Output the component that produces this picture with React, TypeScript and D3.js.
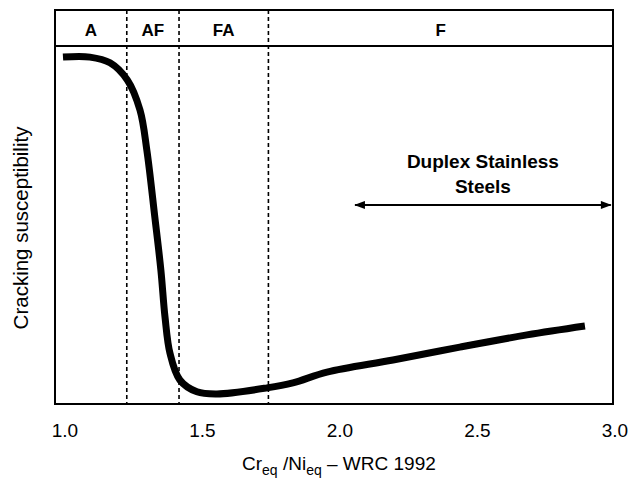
import React from "react";
import * as d3 from "d3";

const ratioX = [0.993, 1.091, 1.164, 1.227, 1.273, 1.298, 1.327, 1.349, 1.364, 1.382, 1.418, 1.48, 1.553, 1.735, 1.829, 1.953, 2.193, 2.436, 2.68, 2.891];
const susceptibility = [0.969, 0.969, 0.953, 0.905, 0.821, 0.709, 0.522, 0.374, 0.243, 0.142, 0.067, 0.034, 0.028, 0.045, 0.059, 0.089, 0.123, 0.159, 0.193, 0.218];
const xTicks = [1.0, 1.5, 2.0, 2.5, 3.0];
const zoneLabels = ["A", "AF", "FA", "F"];
const zoneBounds = [1.225, 1.415, 1.74];
const duplexRange = [2.055, 2.985];
const duplexLabel = ["Duplex Stainless", "Steels"];

const W = 632, H = 483;
const left = 55, right = 613, top = 10, bandBottom = 46, bottom = 404;

export default function App() {
  const x = d3.scaleLinear().domain([0.964, 2.993]).range([left, right]);
  const y = d3.scaleLinear().domain([0, 1]).range([bottom, bandBottom]);
  const pts: [number, number][] = ratioX.map((v, i) => [v, susceptibility[i]]);
  const line = d3.line<[number, number]>().x(d => x(d[0])).y(d => y(d[1])).curve(d3.curveCatmullRom.alpha(0.5));
  const edges = [x.domain()[0], ...zoneBounds, x.domain()[1]];
  const font = "'Liberation Sans', Arial, Helvetica, sans-serif";
  const arrowY = 205;
  return (
    <svg width={W} height={H} style={{ position: "absolute", left: 0, top: 0, background: "#fff" }} fontFamily={font}>
      <defs>
        <marker id="ah" viewBox="0 0 12 10" refX="11" refY="5" markerWidth="12" markerHeight="9" orient="auto-start-reverse" markerUnits="userSpaceOnUse">
          <path d="M0,0.5 L12,5 L0,9.5 Z" fill="#000" />
        </marker>
      </defs>
      <rect x={left} y={top} width={right - left} height={bottom - top} fill="none" stroke="#000" strokeWidth={2} />
      <line x1={left} x2={right} y1={bandBottom} y2={bandBottom} stroke="#000" strokeWidth={2} />
      {zoneBounds.map((b, i) => (
        <line key={i} x1={x(b)} x2={x(b)} y1={top} y2={bottom} stroke="#000" strokeWidth={1.6} strokeDasharray="4,3" />
      ))}
      {zoneLabels.map((l, i) => (
        <text key={l} x={(x(edges[i]) + x(edges[i + 1])) / 2} y={36} textAnchor="middle" fontWeight="bold" fontSize={17}>{l}</text>
      ))}
      <path d={line(pts) || ""} fill="none" stroke="#000" strokeWidth={7} strokeLinecap="butt" strokeLinejoin="round" />
      {xTicks.map(t => (
        <text key={t} x={x(t)} y={437} textAnchor="middle" fontSize={19}>{t.toFixed(1)}</text>
      ))}
      <text x={242} y={470} textAnchor="start" fontSize={19}>
        Cr<tspan fontSize={14} dy={5}>eq</tspan><tspan dy={-5}> /Ni</tspan><tspan fontSize={14} dy={5}>eq</tspan><tspan dy={-5}>  –  WRC 1992</tspan>
      </text>
      <text transform={`translate(28,228) rotate(-90)`} textAnchor="middle" fontSize={20.5}>Cracking susceptibility</text>
      {duplexLabel.map((s, i) => (
        <text key={s} x={(x(duplexRange[0]) + x(duplexRange[1])) / 2} y={168 + i * 25} textAnchor="middle" fontWeight="bold" fontSize={19}>{s}</text>
      ))}
      <line x1={x(duplexRange[0])} x2={x(duplexRange[1])} y1={arrowY} y2={arrowY} stroke="#000" strokeWidth={2} markerStart="url(#ah)" markerEnd="url(#ah)" />
    </svg>
  );
}
